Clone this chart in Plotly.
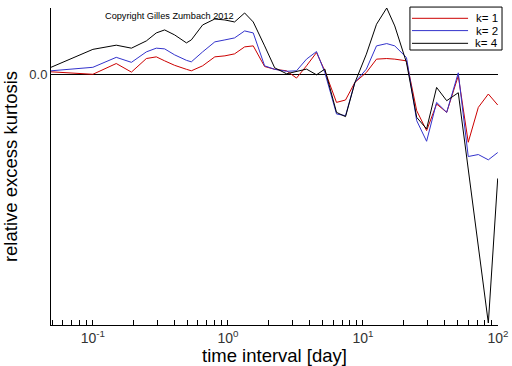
import plotly.graph_objects as go

# time interval [day]
days = [0.049, 0.1, 0.149, 0.193, 0.249, 0.295, 0.34, 0.403, 0.493, 0.536,
        0.65, 0.8, 0.95, 1.12, 1.33, 1.54, 1.87, 2.22, 2.72, 3.22,
        3.82, 4.53, 5.22, 6.37, 7.43, 8.71, 10.6, 12.6, 15.0, 17.2,
        21.0, 25.0, 29.6, 35.1, 41.7, 50.8, 60.2, 71.5, 84.8, 99.5]

k1 = [0.03, 0.005, 0.113, 0.027, 0.163, 0.18, 0.14, 0.095, 0.055, 0.04,
      0.09, 0.18, 0.19, 0.21, 0.28, 0.29, 0.083, 0.055, 0.04, -0.033,
      0.09, 0.223, 0.04, -0.277, -0.253, -0.077, 0.023, 0.157, 0.163, 0.157,
      0.14, -0.36, -0.56, -0.293, -0.377, -0.01, -0.677, -0.327, -0.193, -0.303]

k2 = [0.04, 0.075, 0.175, 0.125, 0.23, 0.267, 0.26, 0.20, 0.145, 0.13,
      0.23, 0.33, 0.35, 0.37, 0.44, 0.42, 0.09, 0.055, 0.035, 0.04,
      0.157, 0.233, 0.023, -0.393, -0.41, -0.077, 0.057, 0.29, 0.313, 0.29,
      0.173, -0.46, -0.667, -0.277, -0.377, 0.02, -0.82, -0.80, -0.853, -0.78]

k4 = [0.075, 0.255, 0.297, 0.267, 0.34, 0.42, 0.45, 0.40, 0.32, 0.35,
      0.50, 0.56, 0.55, 0.53, 0.62, 0.53, 0.29, 0.07, 0.01, 0.03,
      0.057, 0.0, 0.057, -0.377, -0.42, -0.08, 0.207, 0.507, 0.67, 0.49,
      0.123, -0.427, -0.543, -0.127, -0.26, -0.18, -0.93, -1.71, -2.49, -1.04]

x_tickvals = [0.1, 1, 10, 100]
x_ticktext = ["10<sup>-1</sup>", "10<sup>0</sup>", "10<sup>1</sup>", "10<sup>2</sup>"]
y_tickvals = [0]
y_ticktext = ["0.0"]

names = ["k= 1", "k= 2", "k= 4"]
colors = ["#cc0000", "#3333cc", "#000000"]
values = [k1, k2, k4]

font = "Liberation Sans, Arial, sans-serif"
fig = go.Figure()
for name, vals, col in zip(names, values, colors):
    fig.add_trace(go.Scatter(x=days, y=vals, mode="lines", name=name,
                             line=dict(color=col, width=1), showlegend=False))

# hand-drawn legend box (paper coordinates)
shapes = [dict(type="rect", xref="paper", yref="paper", x0=0.803, x1=1.009,
               y0=0.8675, y1=1.003, line=dict(color="black", width=1),
               fillcolor="white", layer="above")]
annotations = []
leg_y = [0.9675, 0.9287, 0.8886]
for name, col, ly in zip(names, colors, leg_y):
    shapes.append(dict(type="line", xref="paper", yref="paper", x0=0.8076, x1=0.933,
                       y0=ly, y1=ly, line=dict(color=col, width=1), layer="above"))
    annotations.append(dict(text=name, x=1.0045, y=ly, xref="paper", yref="paper",
                            xanchor="right", yanchor="middle", showarrow=False,
                            font=dict(size=11.5, family=font, color="black")))
annotations.append(dict(text="Copyright Gilles Zumbach 2012", x=0.1163, y=0.9757,
                        xref="paper", yref="paper", xanchor="left", yanchor="middle",
                        showarrow=False, font=dict(size=9.2, family=font, color="black")))

fig.update_layout(
    width=512, height=366,
    margin=dict(l=51, r=14, t=8, b=41),
    paper_bgcolor="white", plot_bgcolor="white",
    font=dict(family=font, color="black"),
    showlegend=False,
    shapes=shapes,
    annotations=annotations,
)
fig.update_xaxes(type="log", range=[-1.31, 2.0], tickvals=x_tickvals, ticktext=x_ticktext,
                 showline=True, linecolor="black", linewidth=1, mirror=False,
                 showgrid=False, ticks="inside", ticklen=5, tickcolor="black",
                 minor=dict(ticks="inside", ticklen=5, tickcolor="black", showgrid=False,
                            dtick="D1"),
                 tickfont=dict(size=14, color="#333"), automargin=False,
                 title=dict(text="time interval [day]", font=dict(size=18.5), standoff=0))
fig.update_yaxes(range=[-2.51, 0.67], tickvals=y_tickvals, ticktext=y_ticktext,
                 showline=True, linecolor="black", linewidth=1, mirror=False,
                 showgrid=False, zeroline=True, zerolinecolor="black", zerolinewidth=1,
                 ticks="inside", ticklen=4, tickcolor="black",
                 tickfont=dict(size=13, color="#333"), automargin=False,
                 title=dict(text="relative excess kurtosis", font=dict(size=18.5), standoff=6))

fig.write_html("out.html", config={"displayModeBar": False},
               post_script="document.body.style.margin='0';")
